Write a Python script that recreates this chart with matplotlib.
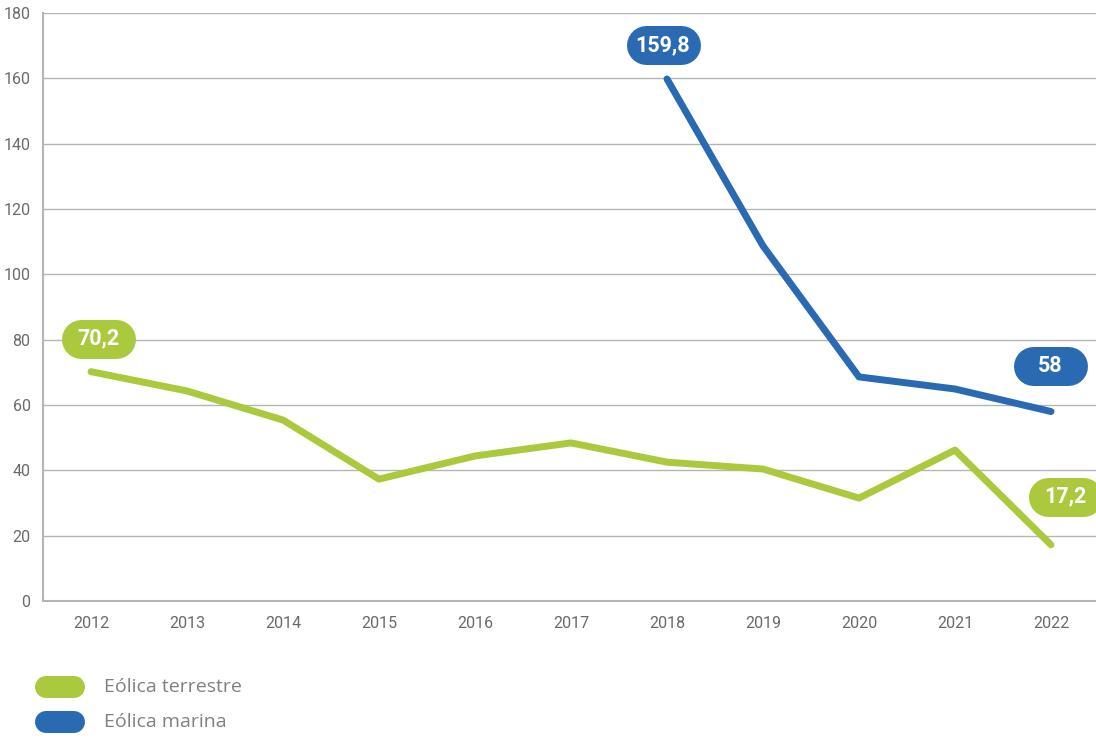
import matplotlib.pyplot as plt
from matplotlib.lines import Line2D
from matplotlib.transforms import IdentityTransform

years = ["2012", "2013", "2014", "2015", "2016", "2017", "2018", "2019", "2020", "2021", "2022"]
onshore = [70.2, 64.3, 55.4, 37.3, 44.4, 48.4, 42.5, 40.4, 31.5, 46.2, 17.2]
offshore_years = ["2018", "2019", "2020", "2021", "2022"]
offshore = [159.8, 108.7, 68.6, 64.9, 58]
y_ticks = [0, 20, 40, 60, 80, 100, 120, 140, 160, 180]

GREEN = "#abc93c"
BLUE = "#2a6ab3"
GRID = "#b4b4b4"
TICK_TXT = "#6a6a6a"

plt.rcParams["font.family"] = ["Roboto", "DejaVu Sans"]

fig = plt.figure(figsize=(10.96, 7.42), dpi=100)
ax = fig.add_axes([43 / 1096, 1 - 601 / 742, 1056 / 1096, 588 / 742])

x_on = [years.index(y) for y in years]
x_off = [years.index(y) for y in offshore_years]

ax.plot(x_on, onshore, color=GREEN, lw=5, solid_capstyle="round", zorder=3)
ax.plot(x_off, offshore, color=BLUE, lw=5, solid_capstyle="round", zorder=3)

ax.set_xlim(-0.5, len(years) - 0.5)
ax.set_ylim(0, 180)
ax.set_yticks(y_ticks)
ax.set_xticks(range(len(years)), labels=years)
ax.tick_params(length=0, labelsize=11.5, labelcolor=TICK_TXT)
ax.tick_params(axis="x", pad=11)
ax.tick_params(axis="y", pad=9)
ax.yaxis.grid(True, color=GRID, lw=1)
ax.set_axisbelow(True)
for side in ("top", "right"):
    ax.spines[side].set_visible(False)
for side in ("left", "bottom"):
    ax.spines[side].set_color(GRID)
    ax.spines[side].set_linewidth(1.5)

PIX = IdentityTransform()


def pill(cx, cy, w, h, color, z=5):
    # a fat line with round caps gives a true capsule shape; coords in pixels
    half = (w - h) / 2
    fig.add_artist(Line2D([cx - half, cx + half], [cy, cy], transform=PIX,
                          color=color, lw=h * 72 / fig.dpi,
                          solid_capstyle="round", zorder=z))


def value_tag(x, y, text, color, dx, dy):
    px, py = ax.transData.transform((x, y))
    cx, cy = px + dx, py + dy
    pill(cx, cy, 74, 39, color)
    fig.text(cx, cy, text, transform=PIX, ha="center", va="center",
             color="white", fontsize=15.5, fontweight="bold", zorder=6)


value_tag(x_on[0], onshore[0], "70,2", GREEN, 7, 33)
value_tag(x_on[-1], onshore[-1], "17,2", GREEN, 14, 48)
value_tag(x_off[0], offshore[0], "159,8", BLUE, -4, 34)
value_tag(x_off[-1], offshore[-1], "58", BLUE, -1, 46)

# legend drawn by hand: capsule swatches plus labels
for i, (name, color) in enumerate([("Eólica terrestre", GREEN), ("Eólica marina", BLUE)]):
    cy = 742 - (687 + i * 35)
    pill(60, cy, 50, 22, color)
    fig.text(104, cy, name, transform=PIX, fontsize=14, color="#808080",
             va="center", ha="left", family=["Open Sans", "DejaVu Sans"])

fig.savefig("out.png", dpi=100)
